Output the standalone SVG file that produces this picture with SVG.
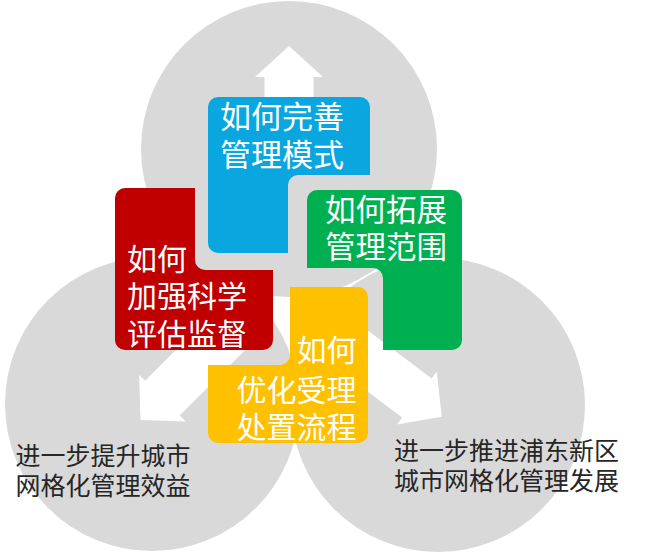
<svg xmlns="http://www.w3.org/2000/svg" width="650" height="556" viewBox="0 0 650 556">
<style>
.circ{fill:#D9D9D9}
.arrow{fill:#FFFFFF}
.tile{font-family:"Noto Sans CJK SC","Noto Sans",sans-serif;fill:#FFFFFF}
.cap{font-family:"Noto Sans CJK SC","Noto Sans",sans-serif;fill:#262626;font-size:25px}
</style>
<defs>
<path id="arr" d="M0,0 L-31,-33.5 L-31,-24.5 L-160,-24.5 L-160,24.5 L-31,24.5 L-31,33.5 Z"/>
</defs>
<rect width="650" height="556" fill="#FFFFFF"/>
<g id="circles">
<circle class="circ" cx="289" cy="149" r="148"/>
<circle class="circ" cx="152" cy="404" r="147"/>
<circle class="circ" cx="438" cy="405" r="147"/>
</g>
<g id="connectors">
<path class="arrow" d="M0,0 L-31,-34 L-31,-24.5 L-110,-24.5 L-110,24.5 L-31,24.5 L-31,34 Z" transform="translate(289,46) rotate(-90)"/>
<path class="arrow" d="M0,0 L-31,-33 L-31,-24.5 L-150,-24.5 L-150,24.5 L-31,24.5 L-31,33 Z" transform="translate(140.5,420) rotate(135)"/>
<path class="arrow" d="M0,0 L-31,-33 L-31,-24.5 L-140,-24.5 L-140,24.5 L-31,24.5 L-31,33 Z" transform="translate(441.7,416.7) rotate(37)"/>
</g>
<g id="node-blue">
<path fill="#0AA6E0" d="M218,97 H360 A10,10 0 0 1 370,107 V175 H298 A10,10 0 0 0 288,185 V253 H218 A10,10 0 0 1 208,243 V107 A10,10 0 0 1 218,97 Z"/>
<text class="tile" font-size="31"><tspan x="220" y="128">如何完善</tspan><tspan x="220" y="166">管理模式</tspan></text>
</g>
<g id="node-red">
<path fill="#C00000" d="M125,188 H195 V260 A10,10 0 0 0 205,270 H273 V340 A10,10 0 0 1 263,350 H125 A10,10 0 0 1 115,340 V198 A10,10 0 0 1 125,188 Z"/>
<text class="tile" font-size="30"><tspan x="127" y="269.5">如何</tspan><tspan x="127" y="307">加强科学</tspan><tspan x="127" y="344.5">评估监督</tspan></text>
</g>
<g id="node-green">
<path fill="#00B050" d="M317,190 H452 A10,10 0 0 1 462,200 V340 A10,10 0 0 1 452,350 H383 V278 A10,10 0 0 0 373,268 H307 V200 A10,10 0 0 1 317,190 Z"/>
<text class="tile" font-size="30.5"><tspan x="325" y="221">如何拓展</tspan><tspan x="325" y="258">管理范围</tspan></text>
</g>
<g id="node-yellow">
<path fill="#FFC000" d="M290,287 H358 A10,10 0 0 1 368,297 V433 A10,10 0 0 1 358,443 H218 A10,10 0 0 1 208,433 V365 H280 A10,10 0 0 0 290,355 V287 Z"/>
<text class="tile" font-size="30" text-anchor="end"><tspan x="356.5" y="361">如何</tspan><tspan x="356.5" y="401">优化受理</tspan><tspan x="356.5" y="438">处置流程</tspan></text>
</g>
<g id="label-left">
<text class="cap"><tspan x="15.5" y="465">进一步提升城市</tspan><tspan x="15.5" y="495">网格化管理效益</tspan></text>
</g>
<g id="label-right">
<text class="cap"><tspan x="394" y="460">进一步推进浦东新区</tspan><tspan x="394" y="490">城市网格化管理发展</tspan></text>
</g>
</svg>
